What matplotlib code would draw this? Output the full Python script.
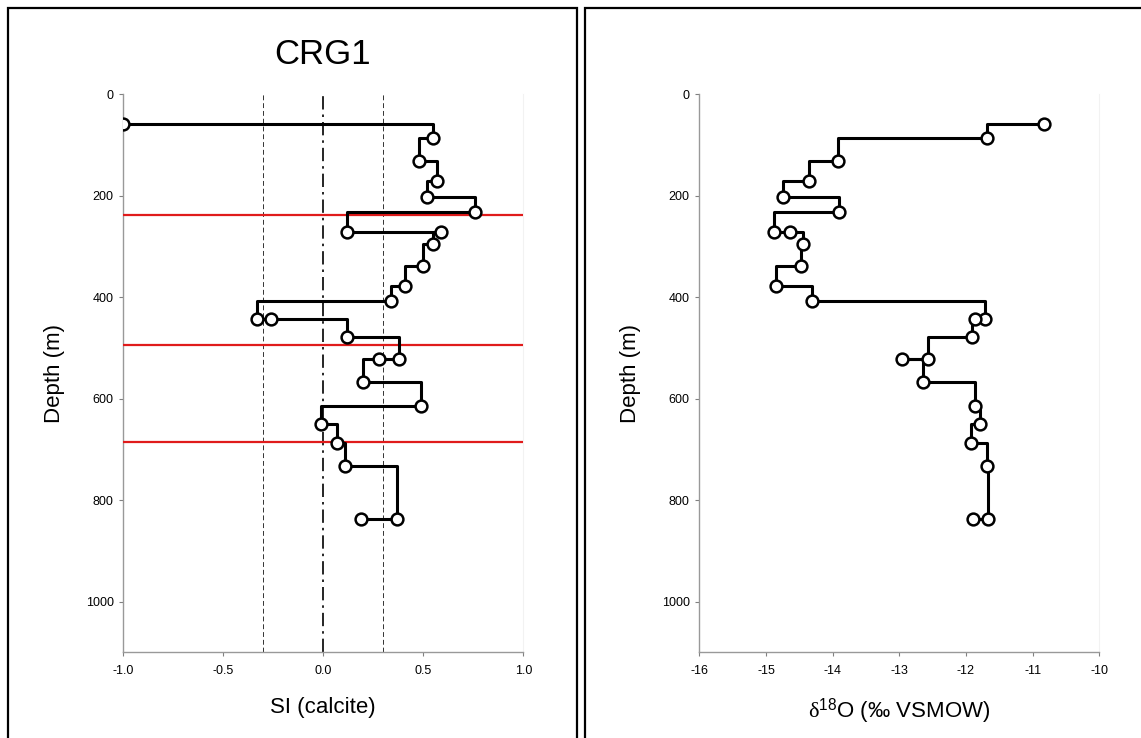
import numpy as np
import matplotlib
matplotlib.use('Agg')
import matplotlib.pyplot as plt
from matplotlib.patches import Rectangle

plt.rcParams['font.family'] = ['Liberation Sans', 'DejaVu Sans']
plt.rcParams['mathtext.fontset'] = 'custom'
plt.rcParams['mathtext.rm'] = 'Liberation Serif'
plt.rcParams['mathtext.sf'] = 'Liberation Sans'
plt.rcParams['mathtext.it'] = 'Liberation Serif'

# sample depths (m), shared by both profiles
depth = [59, 86, 131, 170, 203, 232, 271, 271, 294, 338, 377, 407,
         442, 442, 478, 522, 522, 567, 614, 649, 687, 732, 837, 837]

# saturation index of calcite
si_calcite = [-1.00, 0.55, 0.48, 0.57, 0.52, 0.76, 0.12, 0.59, 0.55, 0.50, 0.41, 0.34,
              -0.33, -0.26, 0.12, 0.38, 0.28, 0.20, 0.49, -0.01, 0.07, 0.11, 0.37, 0.19]

# delta 18O (permil VSMOW)
d18o = [-10.83, -11.69, -13.92, -14.36, -14.75, -13.90, -14.88, -14.64, -14.45, -14.48, -14.85, -14.31,
        -11.71, -11.86, -11.91, -12.57, -12.96, -12.64, -11.86, -11.79, -11.92, -11.68, -11.67, -11.89]

red_depths = [238, 494, 686]
si_limits = [-0.3, 0.3]

W, H = 1141, 738
fig = plt.figure(figsize=(W / 100, H / 100), dpi=100)

# panel frames
fig.patches.append(Rectangle((8 / W, -0.1), (577 - 8) / W, 1.1 - 8 / H, transform=fig.transFigure,
                             fill=False, ec='black', lw=1.6))
fig.patches.append(Rectangle((585 / W, -0.1), 0.5, 1.1 - 8 / H, transform=fig.transFigure,
                             fill=False, ec='black', lw=1.6))

bottom = (H - 652.3) / H
height = (652.3 - 94.5) / H
ax1 = fig.add_axes([123.3 / W, bottom, 400 / W, height])
ax2 = fig.add_axes([699.3 / W, bottom, 400 / W, height])


def style(ax):
    ax.set_ylim(1100, 0)
    ax.set_yticks(np.arange(0, 1001, 200))
    ax.spines['top'].set_visible(False)
    ax.spines['right'].set_color('#f2f2f2')
    for s in ['left', 'bottom']:
        ax.spines[s].set_color('#999999')
        ax.spines[s].set_linewidth(1.0)
    ax.tick_params(axis='both', colors='#808080', labelcolor='black', labelsize=9, length=3, width=0.8)
    ax.tick_params(axis='x', pad=6.5)
    ax.tick_params(axis='y', pad=4)
    ax.set_ylabel('Depth (m)', fontsize=16)
    ax.yaxis.set_label_coords(-0.146, 0.5)
    ax.xaxis.set_label_coords(0.5, -0.08)


# left panel: SI calcite
ax1.plot(si_calcite, depth, drawstyle='steps-post', color='black', lw=2.2,
         marker='o', ms=8.5, mfc='white', mec='black', mew=1.8, zorder=5)
for d in red_depths:
    ax1.axhline(d, color='#e01b1b', lw=1.6, zorder=4)
for v in si_limits:
    ax1.axvline(v, color='#333333', ls=(0, (5, 3)), lw=0.7, zorder=2)
ax1.axvline(0.0, color='black', ls=(0, (8, 3, 1.5, 3)), lw=1.2, zorder=2)
ax1.set_xlim(-1.0, 1.0)
ax1.set_xticks([-1.0, -0.5, 0.0, 0.5, 1.0])
ax1.set_xticklabels(['-1.0', '-0.5', '0.0', '0.5', '1.0'])
style(ax1)
ax1.set_xlabel('SI (calcite)', fontsize=16)
fig.text(323 / W, 1 - 54 / H, 'CRG1', fontsize=25, ha='center', va='center')

# right panel: d18O
ax2.plot(d18o, depth, drawstyle='steps-post', color='black', lw=2.2,
         marker='o', ms=8.5, mfc='white', mec='black', mew=1.8, zorder=5)
ax2.set_xlim(-16, -10)
ax2.set_xticks(np.arange(-16, -9, 1))
ax2.set_xticklabels([str(t) for t in range(-16, -9)])
style(ax2)
ax2.set_xlabel(r'$\mathrm{\delta}^{\mathsf{18}}$O (‰ VSMOW)', fontsize=16)

fig.savefig('out.png', dpi=100)
